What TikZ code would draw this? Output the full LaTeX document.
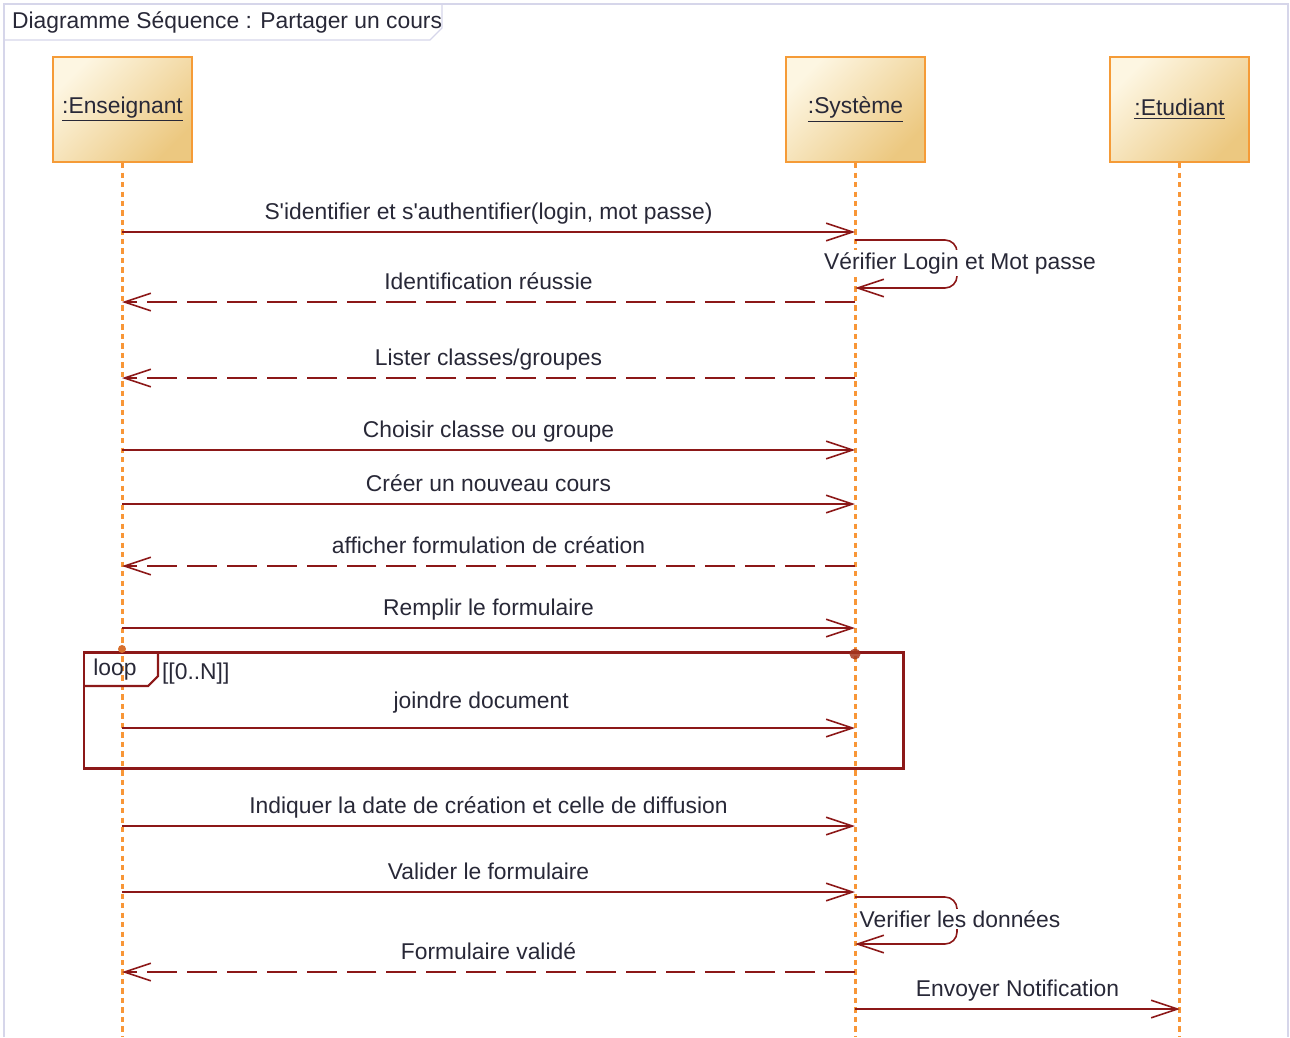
\documentclass[tikz,border=0pt]{standalone}
\usepackage{fontspec}
\setmainfont{Liberation Sans}[Ligatures=TeXOff]
\usepackage{tikz}
\usetikzlibrary{positioning, arrows.meta, calc}
\definecolor{msgred}{RGB}{140,24,24}
\definecolor{lifeor}{RGB}{248,150,55}
\definecolor{boxor}{RGB}{245,155,55}
\definecolor{boxlight}{RGB}{253,246,226}
\definecolor{boxdark}{RGB}{236,200,128}
\definecolor{txt}{RGB}{40,40,55}
\definecolor{lav}{RGB}{214,214,234}
\tikzset{actor/.style = {draw=boxor, line width=1.2pt, top color=boxdark, bottom color=boxlight, shading angle=225,
                         minimum width=2.78cm, minimum height=2.1cm, font=\fontsize{13}{15}\selectfont, text=txt},
         life/.style = {draw=lifeor, line width=1.5pt, dash pattern=on 3pt off 2.4pt},
         msg/.style = {draw=msgred, line width=0.9pt, -{Straight Barb[length=15pt,width=10pt,line width=0.9pt]}},
         ret/.style = {msg, dash pattern=on 17pt off 5.7pt},
         lbl/.style = {font=\fontsize{13}{15}\selectfont, text=txt, anchor=base, inner sep=0pt, yshift=0.26cm},
         txtnode/.style = {font=\fontsize{13}{15}\selectfont, text=txt, inner sep=1pt}}

\begin{document}
\begin{tikzpicture}[x=0.02cm, y=-0.02cm]
        \useasboundingbox (0,0) rectangle (1290,1037);
        % frame of the diagram
        \draw[lav, line width=0.8pt] (4,1037) -- (4,4) -- (1288,4) -- (1288,1037);
        \draw[lav, line width=0.8pt] (4,40) -- (430,40) -- (442,28) -- (442,4);
        \node [txtnode, anchor=west] (titre) at (10,22) {Diagramme Séquence : Partager un cours};

        % objects
        \node [actor] (ens) at (122.5,109.5) {\underline{:Enseignant}};
        \node [actor] (sys) at (855.5,109.5) {\underline{:Système}};
        \node [actor] (etu) at (1179.5,109.5) {\underline{:Etudiant}};
        \coordinate (bottom) at (0,1037);
        \foreach \a in {ens,sys,etu}
            \draw[life] (\a.south) -- (\a.south |- bottom);

        % points on the lifelines
        \foreach \i/\y in {1/232, 2/302, 3/378, 4/450, 5/504, 6/566, 7/628, 8/728, 9/826, 10/892, 11/972}{
            \coordinate (E\i) at (122,\y);
            \coordinate (S\i) at (855,\y);
        }
        \coordinate (Va) at (855,240);
        \coordinate (Vb) at (855,288);
        \coordinate (Wa) at (855,897);
        \coordinate (Wb) at (855,944);
        \coordinate (S12) at (855,1009);
        \coordinate (T12) at (1180,1009);

        % loop fragment
        \draw[msgred, line width=1.7pt] (84,652) rectangle (903,768);
        \draw[msgred, line width=1.2pt] (84,686) -- (148,686) -- (158,676) -- (158,652);
        \node [txtnode] (loop) at (115,670) {loop};
        \node [txtnode, anchor=west] (garde) at (160,674) {[[0..N]]};
        \fill[lifeor!70!msgred] (122,649) circle (4);
        \fill[msgred!75!lifeor, opacity=0.85] (855,654) circle (5.5);

        % messages
        \draw[msg] (E1) -- node[lbl] {S'identifier et s'authentifier(login, mot passe)} (S1);
        \draw[msg, rounded corners=0.24cm] (Va) -| ++(102,24) |- (Vb);
        \node [txtnode, fill=white] (verif1) at (960,263) {Vérifier Login et Mot passe};
        \draw[ret] (S2) -- node[lbl] {Identification réussie} (E2);
        \draw[ret] (S3) -- node[lbl] {Lister classes/groupes} (E3);
        \draw[msg] (E4) -- node[lbl] {Choisir classe ou groupe} (S4);
        \draw[msg] (E5) -- node[lbl] {Créer un nouveau cours} (S5);
        \draw[ret] (S6) -- node[lbl] {afficher formulation de création} (E6);
        \draw[msg] (E7) -- node[lbl] {Remplir le formulaire} (S7);
        \draw[msg] (E8) -- node[lbl, pos=0.49, yshift=0.14cm] {joindre document} (S8);
        \draw[msg] (E9) -- node[lbl] {Indiquer la date de création et celle de diffusion} (S9);
        \draw[msg] (E10) -- node[lbl] {Valider le formulaire} (S10);
        \draw[msg, rounded corners=0.24cm] (Wa) -| ++(102,23) |- (Wb);
        \node [txtnode, fill=white] (verif2) at (960,919) {Verifier les données};
        \draw[ret] (S11) -- node[lbl] {Formulaire validé} (E11);
        \draw[msg] (S12) -- node[lbl] {Envoyer Notification} (T12);
    \end{tikzpicture}
\end{document}
